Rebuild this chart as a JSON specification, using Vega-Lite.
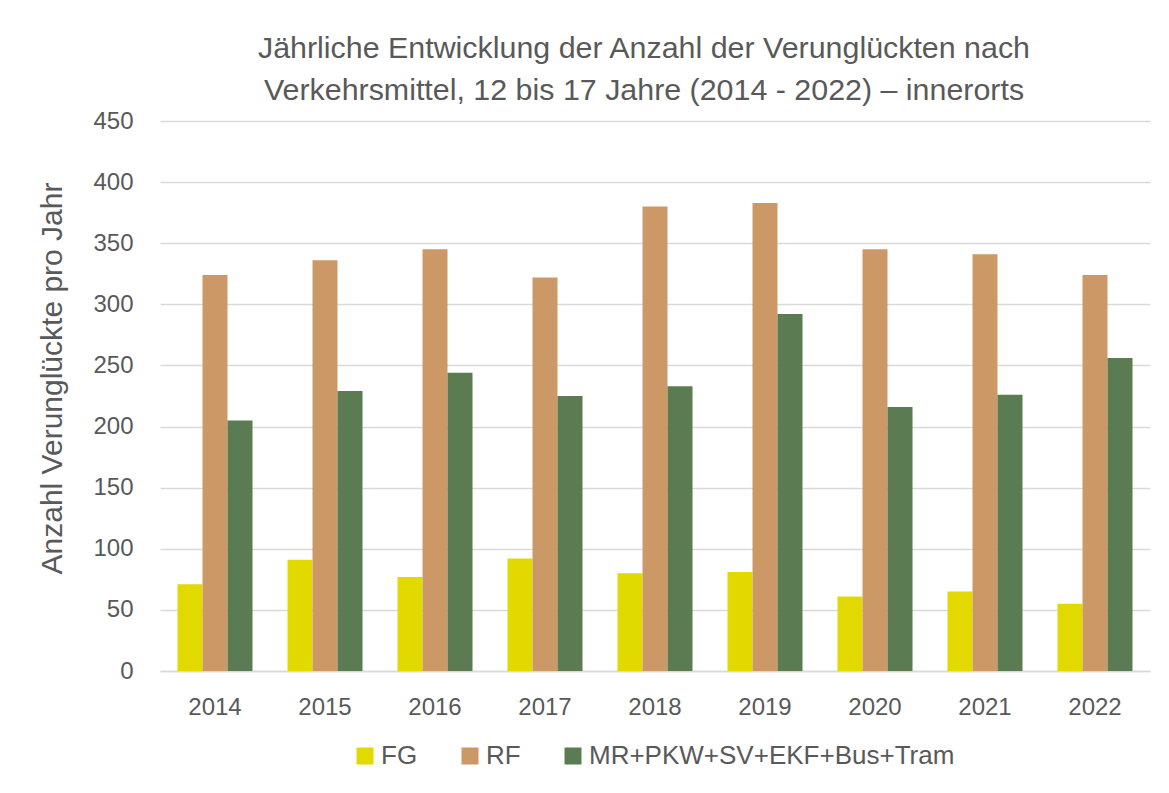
{
  "$schema": "https://vega.github.io/schema/vega-lite/v6.json",
  "autosize": "none",
  "width": 990,
  "height": 550,
  "padding": {"left": 160, "top": 121, "right": 19, "bottom": 122},
  "background": "white",
  "title": {
    "text": ["Jährliche Entwicklung der Anzahl der Verunglückten nach", "Verkehrsmittel, 12 bis 17 Jahre (2014 - 2022) – innerorts"],
    "font": "Liberation Sans",
    "fontSize": 30.4,
    "fontWeight": "normal",
    "color": "#595959",
    "anchor": "middle",
    "lineHeight": 42,
    "offset": 3,
    "dx": -11
  },
  "data": {
    "values": [
      {"Jahr": "2014", "Verkehrsmittel": "FG", "Anzahl": 71},
      {"Jahr": "2014", "Verkehrsmittel": "RF", "Anzahl": 324},
      {"Jahr": "2014", "Verkehrsmittel": "MR+PKW+SV+EKF+Bus+Tram", "Anzahl": 205},
      {"Jahr": "2015", "Verkehrsmittel": "FG", "Anzahl": 91},
      {"Jahr": "2015", "Verkehrsmittel": "RF", "Anzahl": 336},
      {"Jahr": "2015", "Verkehrsmittel": "MR+PKW+SV+EKF+Bus+Tram", "Anzahl": 229},
      {"Jahr": "2016", "Verkehrsmittel": "FG", "Anzahl": 77},
      {"Jahr": "2016", "Verkehrsmittel": "RF", "Anzahl": 345},
      {"Jahr": "2016", "Verkehrsmittel": "MR+PKW+SV+EKF+Bus+Tram", "Anzahl": 244},
      {"Jahr": "2017", "Verkehrsmittel": "FG", "Anzahl": 92},
      {"Jahr": "2017", "Verkehrsmittel": "RF", "Anzahl": 322},
      {"Jahr": "2017", "Verkehrsmittel": "MR+PKW+SV+EKF+Bus+Tram", "Anzahl": 225},
      {"Jahr": "2018", "Verkehrsmittel": "FG", "Anzahl": 80},
      {"Jahr": "2018", "Verkehrsmittel": "RF", "Anzahl": 380},
      {"Jahr": "2018", "Verkehrsmittel": "MR+PKW+SV+EKF+Bus+Tram", "Anzahl": 233},
      {"Jahr": "2019", "Verkehrsmittel": "FG", "Anzahl": 81},
      {"Jahr": "2019", "Verkehrsmittel": "RF", "Anzahl": 383},
      {"Jahr": "2019", "Verkehrsmittel": "MR+PKW+SV+EKF+Bus+Tram", "Anzahl": 292},
      {"Jahr": "2020", "Verkehrsmittel": "FG", "Anzahl": 61},
      {"Jahr": "2020", "Verkehrsmittel": "RF", "Anzahl": 345},
      {"Jahr": "2020", "Verkehrsmittel": "MR+PKW+SV+EKF+Bus+Tram", "Anzahl": 216},
      {"Jahr": "2021", "Verkehrsmittel": "FG", "Anzahl": 65},
      {"Jahr": "2021", "Verkehrsmittel": "RF", "Anzahl": 341},
      {"Jahr": "2021", "Verkehrsmittel": "MR+PKW+SV+EKF+Bus+Tram", "Anzahl": 226},
      {"Jahr": "2022", "Verkehrsmittel": "FG", "Anzahl": 55},
      {"Jahr": "2022", "Verkehrsmittel": "RF", "Anzahl": 324},
      {"Jahr": "2022", "Verkehrsmittel": "MR+PKW+SV+EKF+Bus+Tram", "Anzahl": 256}
    ]
  },
  "mark": {"type": "bar"},
  "encoding": {
    "x": {
      "field": "Jahr",
      "type": "nominal",
      "title": null,
      "scale": {"paddingInner": 0.318, "paddingOuter": 0.159},
      "axis": {
        "labelAngle": 0,
        "labelFont": "Liberation Sans",
        "labelFontSize": 24,
        "labelColor": "#595959",
        "labelPadding": 24,
        "ticks": false,
        "domain": true,
        "domainColor": "#d9d9d9",
        "domainWidth": 1.5,
        "grid": false
      }
    },
    "xOffset": {"field": "Verkehrsmittel", "sort": ["FG", "RF", "MR+PKW+SV+EKF+Bus+Tram"]},
    "y": {
      "field": "Anzahl",
      "type": "quantitative",
      "scale": {"domain": [0, 450], "nice": false},
      "axis": {
        "values": [0, 50, 100, 150, 200, 250, 300, 350, 400, 450],
        "title": "Anzahl Verunglückte pro Jahr",
        "titleFont": "Liberation Sans",
        "titleFontSize": 30,
        "titleFontWeight": "normal",
        "titleColor": "#595959",
        "titleX": -108,
        "titleY": 257,
        "titleAngle": 270,
        "titleAlign": "center",
        "titleBaseline": "middle",
        "labelFont": "Liberation Sans",
        "labelFontSize": 24,
        "labelColor": "#595959",
        "labelPadding": 27,
        "ticks": false,
        "domain": false,
        "grid": true,
        "gridColor": "#d9d9d9",
        "gridWidth": 1.5
      }
    },
    "color": {
      "field": "Verkehrsmittel",
      "type": "nominal",
      "scale": {
        "domain": ["FG", "RF", "MR+PKW+SV+EKF+Bus+Tram"],
        "range": ["#e1d900", "#cc9966", "#5b7c53"]
      },
      "legend": {
        "orient": "none",
        "legendX": 192,
        "legendY": 622,
        "direction": "horizontal",
        "title": null,
        "padding": 0,
        "symbolType": "square",
        "symbolSize": 289,
        "symbolStrokeWidth": 0,
        "labelFont": "Liberation Sans",
        "labelFontSize": 26,
        "labelColor": "#595959",
        "labelLimit": 600,
        "labelOffset": 3,
        "columnPadding": 39
      }
    }
  },
  "config": {
    "view": {"stroke": null}
  }
}
